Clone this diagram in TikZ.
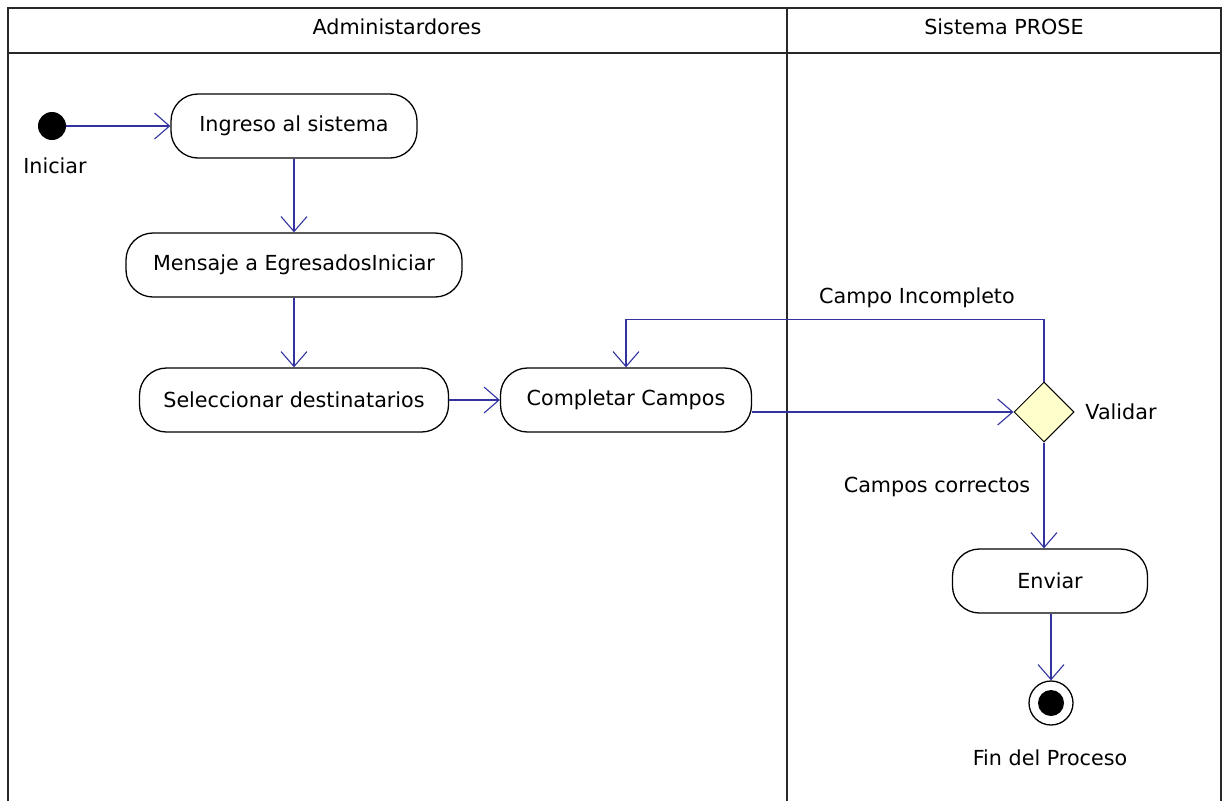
\documentclass[tikz,border=0pt]{standalone}
\usepackage{fontspec}
\setmainfont{DejaVu Sans}
\usetikzlibrary{arrows.meta,shapes.geometric}
\definecolor{flow}{RGB}{51,51,160}
\definecolor{decision}{RGB}{255,255,204}
\definecolor{lanegray}{RGB}{40,40,40}

\begin{document}
\begin{tikzpicture}[x=1pt, y=-1pt,
  font=\fontsize{20.7}{24}\selectfont,
  lane/.style={draw=lanegray, line width=1.4pt},
  action/.style={draw, line width=1.3pt, rounded corners=27pt, minimum height=64pt, inner sep=0pt},
  flowline/.style={draw=flow, line width=1.2pt, -{Straight Barb[length=15pt,width=26pt,line width=1.1pt]}}]
  \useasboundingbox (0,0) rectangle (1223,801);
  \draw[lane] (8,801) -- (8,8) -- (1221,8) -- (1221,801);
  \draw[lane] (8,53) -- (1221,53);
  \draw[lane] (787,8) -- (787,801);
  \node (admin) at (397,27) {Administardores};
  \node (prose) at (1004,27) {Sistema PROSE};

  \node[circle, fill=black, minimum size=28pt, inner sep=0pt] (ini) at (52,126) {};
  \node (iniLabel) at (55,166) {Iniciar};
  \node[action, minimum width=246pt] (ing) at (294,126) {Ingreso al sistema};
  \node[action, minimum width=336pt] (men) at (294,265) {Mensaje a EgresadosIniciar};
  \node[action, minimum width=309pt] (sel) at (294,400) {Seleccionar destinatarios};
  \node[action, minimum width=251pt] (comp) at (626,400) {Completar Campos};
  \node[diamond, draw, line width=1pt, fill=decision, minimum size=60pt, inner sep=0pt] (val) at (1044,412) {};
  \node (valLabel) at (1121,412) {Validar};
  \node[action, minimum width=195pt] (env) at (1050,581) {Enviar};
  \node[circle, draw, line width=1.3pt, minimum size=44pt, inner sep=0pt] (fin) at (1051,703) {};
  \fill (fin.center) circle (13pt);
  \node (finLabel) at (1050,758) {Fin del Proceso};
  \node (incompleto) at (917,298) {Campo Incompleto};
  \node (correctos) at (937,487) {Campos correctos};

  \draw[flowline] (ini) -- (ing);
  \draw[flowline] (ing) -- (men);
  \draw[flowline] (men) -- (sel);
  \draw[flowline] (sel) -- (comp);
  \draw[flowline] (comp.east |- val.west) -- (val.west);
  \draw[flowline] (val.north) -- ++(0,-62) -| (comp.north);
  \draw[flowline] (val.south) -- (val.south |- env.north);
  \draw[flowline] (env.south -| fin) -- (fin);
\end{tikzpicture}
\end{document}
